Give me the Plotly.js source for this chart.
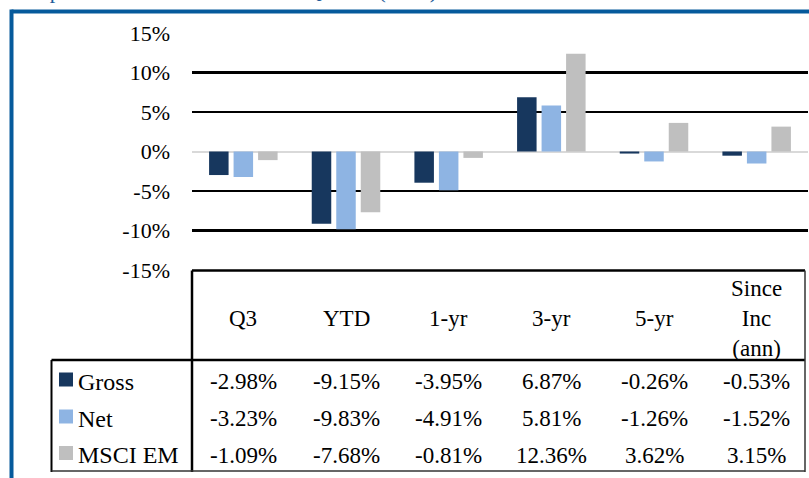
<!DOCTYPE html>
<html>
<head>
<meta charset="utf-8">
<script src="https://cdn.plot.ly/plotly-3.0.1.min.js"></script>
<style>
html,body{margin:0;padding:0;background:#fff;}
#chart{width:809px;height:478px;}
</style>
</head>
<body>
<div id="chart"></div>
<script>
// ---- data ----
const categories = ['Q3', 'YTD', '1-yr', '3-yr', '5-yr', 'Since<br>Inc<br>(ann)'];
const seriesNames = ['Gross', 'Net', 'MSCI EM'];
const gross = [-2.98, -9.15, -3.95, 6.87, -0.26, -0.53];
const net = [-3.23, -9.83, -4.91, 5.81, -1.26, -1.52];
const msci = [-1.09, -7.68, -0.81, 12.36, 3.62, 3.15];
const yTickVals = [-15, -10, -5, 0, 5, 10, 15];
const yTickText = ['-15%', '-10%', '-5%', '0%', '5%', '10%', '15%'];
const titleText = 'Composite Performance as of the Quarter (USD)';

// ---- styles / layout ----
const colors = ['#17375e', '#8eb4e3', '#bfbfbf'];
const FONT = '"Liberation Serif", "Times New Roman", serif';
const FS = 23;
const W = 809, H = 478, ML = 192, MR = 1, MT = 33, MB = 208;
const PW = W - ML - MR, PH = H - MT - MB;
const px = v => (v - ML) / PW;
const py = v => (H - MB - v) / PH;

const seriesVals = [gross, net, msci];
const traces = seriesVals.map((vals, s) => ({
  type: 'bar',
  name: seriesNames[s],
  x: categories,
  y: vals,
  marker: {color: colors[s], line: {width: 0}},
  hoverinfo: 'skip'
}));

const rowY = [381.5, 418.5, 455];
const headerY = 318;
const annotations = [];
const shapes = [];
const tf = {family: FONT, size: FS, color: '#000'};

// header row (category labels)
categories.forEach(c => {
  annotations.push({
    xref: 'x', x: c, yref: 'paper', y: py(headerY),
    xanchor: 'center', yanchor: 'middle', showarrow: false,
    text: c, align: 'center', font: tf
  });
});

// data rows
seriesVals.forEach((vals, s) => {
  annotations.push({
    xref: 'paper', x: px(76), yref: 'paper', y: py(rowY[s]),
    xanchor: 'left', yanchor: 'middle', showarrow: false,
    text: seriesNames[s], font: {family: FONT, size: 24, color: '#000'}
  });
  shapes.push({
    type: 'rect', xref: 'paper', yref: 'paper',
    x0: px(59), x1: px(73), y0: py(rowY[s] - 9), y1: py(rowY[s] + 5),
    fillcolor: colors[s], line: {width: 0}
  });
  vals.forEach((v, i) => {
    annotations.push({
      xref: 'x', x: categories[i], yref: 'paper', y: py(rowY[s]),
      xanchor: 'center', yanchor: 'middle', showarrow: false,
      text: v.toFixed(2) + '%', font: tf
    });
  });
});

// title (cut off at top, as in the reference)
annotations.push({
  xref: 'paper', x: px(5), yref: 'paper', y: py(-9),
  xanchor: 'left', yanchor: 'middle', showarrow: false,
  text: titleText,
  font: {family: FONT, size: 22, color: '#1f5c99'}
});

// table lines
const L = (x0, y0, x1, y1, w, c) => shapes.push({
  type: 'line', xref: 'paper', yref: 'paper',
  x0: px(x0), y0: py(y0), x1: px(x1), y1: py(y1),
  line: {color: c, width: w}
});
L(192, 270.5, 805, 270.5, 2.5, '#000');
L(192, 270.5, 192, 472, 2.5, '#000');
L(51.5, 360, 805, 360, 2.5, '#000');
L(51.5, 360, 51.5, 472, 2, '#000');
L(805, 270.5, 805, 472, 1.5, '#333');
L(51.5, 471, 805, 471, 1.5, '#333');
// blue frame
L(11.5, 11.5, 812, 11.5, 4, '#065a9c');
L(11.5, 9.5, 11.5, 480, 4, '#065a9c');

const layout = {
  width: W, height: H,
  margin: {l: ML, r: MR, t: MT, b: MB, pad: 0},
  paper_bgcolor: '#fff', plot_bgcolor: '#fff',
  showlegend: false,
  barmode: 'group', bargap: 0.284, bargroupgap: 0.204,
  font: {family: FONT, size: FS, color: '#000'},
  xaxis: {
    type: 'category', range: [-0.5, 5.5],
    showticklabels: false, showgrid: false, zeroline: false, showline: false, ticks: ''
  },
  yaxis: {
    range: [-15, 15], tickmode: 'array', tickvals: yTickVals, ticktext: yTickText,
    showgrid: true, gridcolor: '#000', gridwidth: 2.5,
    zeroline: true, zerolinecolor: '#d9d9d9', zerolinewidth: 2,
    showline: false, ticks: '', ticklabelstandoff: 21,
    tickfont: {family: FONT, size: 22, color: '#000'}
  },
  annotations: annotations,
  shapes: shapes
};

Plotly.newPlot('chart', traces, layout, {staticPlot: true, displayModeBar: false});
</script>
</body>
</html>
